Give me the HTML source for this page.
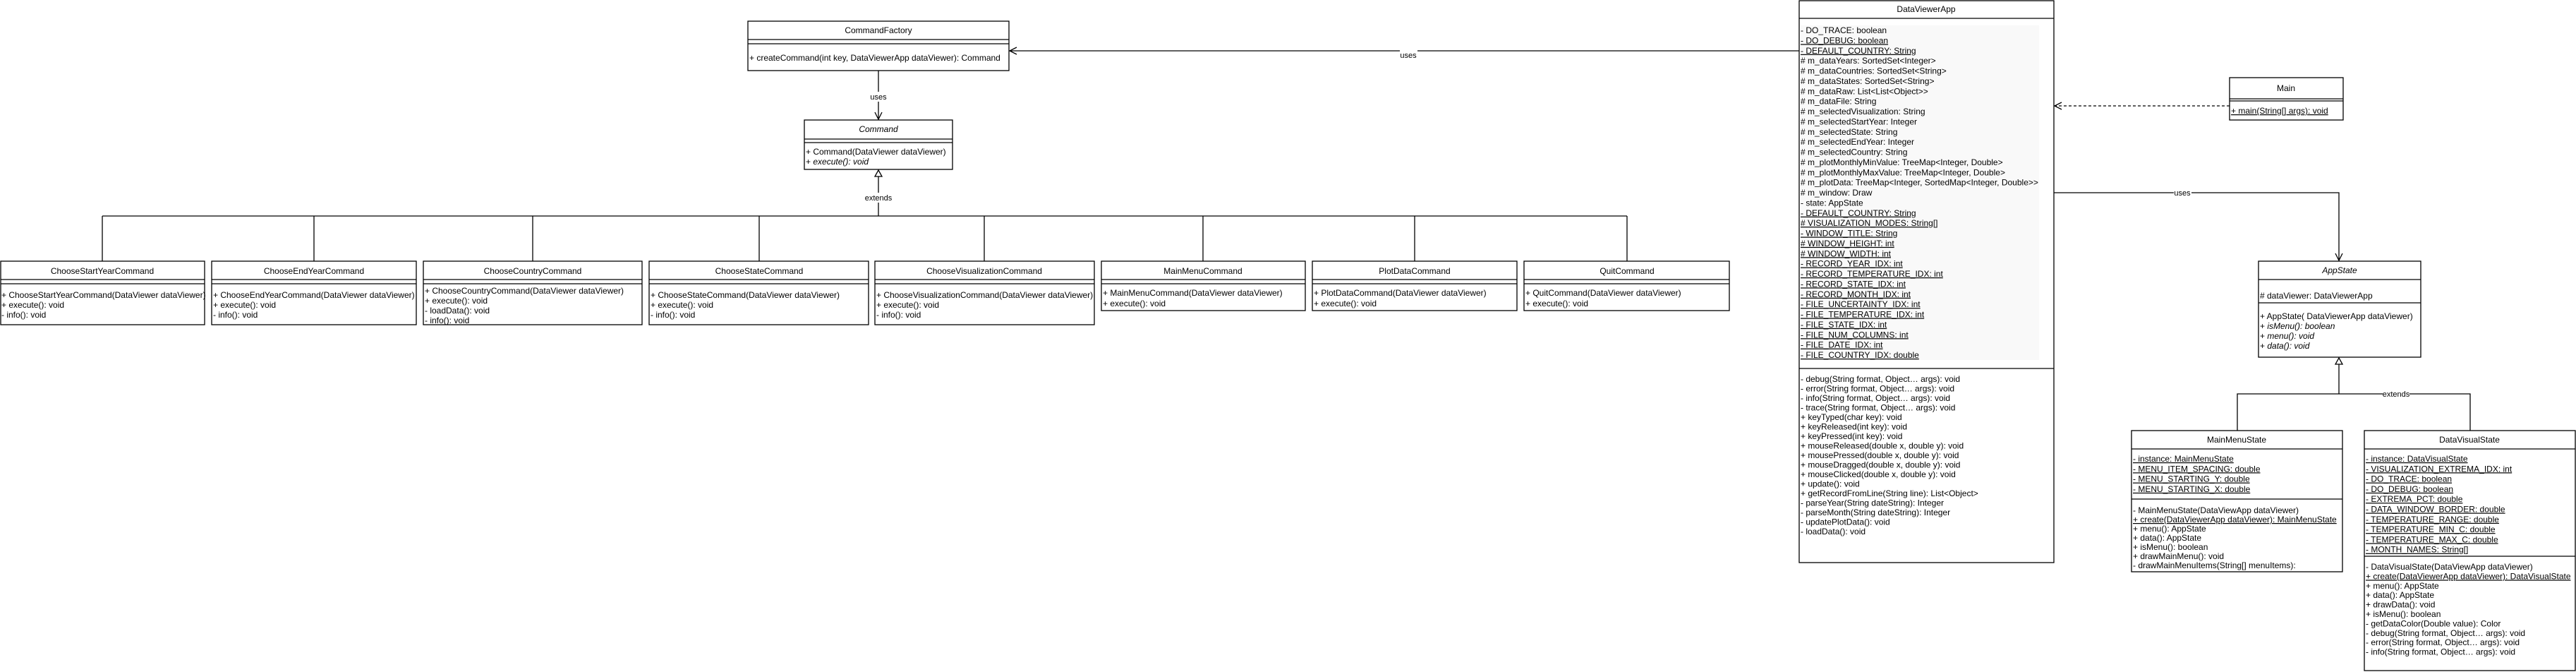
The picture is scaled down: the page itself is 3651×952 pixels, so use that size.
<!DOCTYPE html>
<html><head><meta charset="utf-8"><style>
html,body{margin:0;padding:0;background:#fff;}
svg{display:block;}
text{font-family:"Liberation Sans",Arial,sans-serif;font-size:12px;fill:#000;}
.c{text-anchor:middle;}
.u{text-decoration:underline;}
.i{font-style:italic;}
.l{font-size:11px;}
rect.b{fill:#fff;stroke:#000;stroke-width:1.3;}
line,path.s{stroke:#000;stroke-width:1.3;fill:none;}
</style></head><body>
<svg width="3651" height="952" viewBox="0 0 3651 952" xmlns="http://www.w3.org/2000/svg">
<line x1="2550" y1="72" x2="1431" y2="72"/>
<path class="s" d="M1441 67 L1431 72 L1441 77"/>
<rect x="1984" y="71" width="25" height="14" fill="#fff"/>
<text class="c l" x="1996" y="82">uses</text>

<line x1="1245" y1="100" x2="1245" y2="169"/>
<path class="s" d="M1240 159 L1245 169 L1250 159"/>
<rect x="1232" y="130" width="26" height="14" fill="#fff"/>
<text class="c l" x="1245" y="141">uses</text>

<line x1="1245" y1="250" x2="1245" y2="306"/>
<path d="M1245 241 L1250 250 L1240 250 Z" fill="#fff" stroke="#000" stroke-width="1.3"/>
<rect x="1226" y="273" width="38" height="14" fill="#fff"/>
<text class="c l" x="1245" y="284">extends</text>
<line x1="145" y1="306" x2="2306" y2="306"/>
<line x1="145" y1="306" x2="145" y2="370"/>
<line x1="445" y1="306" x2="445" y2="370"/>
<line x1="755" y1="306" x2="755" y2="370"/>
<line x1="1076" y1="306" x2="1076" y2="370"/>
<line x1="1395" y1="306" x2="1395" y2="370"/>
<line x1="1705" y1="306" x2="1705" y2="370"/>
<line x1="2005" y1="306" x2="2005" y2="370"/>
<line x1="2306" y1="306" x2="2306" y2="370"/>

<line x1="3160" y1="150" x2="2912" y2="150" stroke-dasharray="4 3"/>
<path class="s" d="M2922 145 L2912 150 L2922 155"/>

<path class="s" d="M2911 273 L3315 273 L3315 369"/>
<path class="s" d="M3310 359 L3315 369 L3320 359"/>
<rect x="3081" y="266" width="25" height="14" fill="#fff"/>
<text class="c l" x="3093" y="277">uses</text>

<line x1="3315" y1="516" x2="3315" y2="558"/>
<path d="M3315 507 L3320 516 L3310 516 Z" fill="#fff" stroke="#000" stroke-width="1.3"/>
<path class="s" d="M3171 610 L3171 558 L3501 558 L3501 610"/>
<rect x="3377" y="551" width="38" height="14" fill="#fff"/>
<text class="c l" x="3396" y="562">extends</text>

<rect class="b" x="1060" y="30" width="370" height="70"/>
<line x1="1060" y1="56" x2="1430" y2="56"/><line x1="1060" y1="62" x2="1430" y2="62"/>
<text class="c" x="1245" y="47">CommandFactory</text>
<text x="1062" y="86">+ createCommand(int key, DataViewerApp dataViewer): Command</text>

<rect class="b" x="1140" y="170" width="210" height="70"/>
<line x1="1140" y1="197" x2="1350" y2="197"/><line x1="1140" y1="202" x2="1350" y2="202"/>
<text class="c i" x="1245" y="187">Command</text>
<text x="1142" y="219">+ Command(DataViewer dataViewer)</text>
<text x="1142" y="233">+ <tspan class="i">execute(): void</tspan></text>

<g>
<rect class="b" x="1" y="370" width="289" height="90"/>
<line x1="1" y1="396" x2="290" y2="396"/><line x1="1" y1="402" x2="290" y2="402"/>
<text class="c" x="145" y="388">ChooseStartYearCommand</text>
<text x="2" y="422">+ ChooseStartYearCommand(DataViewer dataViewer)</text>
<text x="2" y="436">+ execute(): void</text>
<text x="2" y="450">- info(): void</text>

<rect class="b" x="300" y="370" width="290" height="90"/>
<line x1="300" y1="396" x2="590" y2="396"/><line x1="300" y1="402" x2="590" y2="402"/>
<text class="c" x="445" y="388">ChooseEndYearCommand</text>
<text x="302" y="422">+ ChooseEndYearCommand(DataViewer dataViewer)</text>
<text x="302" y="436">+ execute(): void</text>
<text x="302" y="450">- info(): void</text>

<rect class="b" x="600" y="370" width="310" height="90"/>
<line x1="600" y1="396" x2="910" y2="396"/><line x1="600" y1="402" x2="910" y2="402"/>
<text class="c" x="755" y="388">ChooseCountryCommand</text>
<text x="602" y="416">+ ChooseCountryCommand(DataViewer dataViewer)</text>
<text x="602" y="430">+ execute(): void</text>
<text x="602" y="444">- loadData(): void</text>
<text x="602" y="458">- info(): void</text>

<rect class="b" x="920" y="370" width="311" height="90"/>
<line x1="920" y1="396" x2="1231" y2="396"/><line x1="920" y1="402" x2="1231" y2="402"/>
<text class="c" x="1076" y="388">ChooseStateCommand</text>
<text x="922" y="422">+ ChooseStateCommand(DataViewer dataViewer)</text>
<text x="922" y="436">+ execute(): void</text>
<text x="922" y="450">- info(): void</text>

<rect class="b" x="1240" y="370" width="311" height="90"/>
<line x1="1240" y1="396" x2="1551" y2="396"/><line x1="1240" y1="402" x2="1551" y2="402"/>
<text class="c" x="1395" y="388">ChooseVisualizationCommand</text>
<text x="1242" y="422">+ ChooseVisualizationCommand(DataViewer dataViewer)</text>
<text x="1242" y="436">+ execute(): void</text>
<text x="1242" y="450">- info(): void</text>

<rect class="b" x="1561" y="370" width="289" height="70"/>
<line x1="1561" y1="396" x2="1850" y2="396"/><line x1="1561" y1="402" x2="1850" y2="402"/>
<text class="c" x="1705" y="388">MainMenuCommand</text>
<text x="1563" y="419">+ MainMenuCommand(DataViewer dataViewer)</text>
<text x="1563" y="434">+ execute(): void</text>

<rect class="b" x="1860" y="370" width="290" height="70"/>
<line x1="1860" y1="396" x2="2150" y2="396"/><line x1="1860" y1="402" x2="2150" y2="402"/>
<text class="c" x="2005" y="388">PlotDataCommand</text>
<text x="1862" y="419">+ PlotDataCommand(DataViewer dataViewer)</text>
<text x="1862" y="434">+ execute(): void</text>

<rect class="b" x="2160" y="370" width="291" height="70"/>
<line x1="2160" y1="396" x2="2451" y2="396"/><line x1="2160" y1="402" x2="2451" y2="402"/>
<text class="c" x="2306" y="388">QuitCommand</text>
<text x="2162" y="419">+ QuitCommand(DataViewer dataViewer)</text>
<text x="2162" y="434">+ execute(): void</text>
</g>

<rect class="b" x="2550" y="1" width="361" height="796"/>
<line x1="2550" y1="26" x2="2911" y2="26"/>
<text class="c" x="2730" y="17">DataViewerApp</text>
<rect x="2552" y="36" width="338" height="474" fill="#f9f9f9"/>
<g transform="translate(2552,47)">
<text y="0">- DO_TRACE: boolean</text>
<text y="14.375" class="u">- DO_DEBUG: boolean</text>
<text y="28.75" class="u">- DEFAULT_COUNTRY: String</text>
<text y="43.125"># m_dataYears: SortedSet&lt;Integer&gt;</text>
<text y="57.5"># m_dataCountries: SortedSet&lt;String&gt;</text>
<text y="71.875"># m_dataStates: SortedSet&lt;String&gt;</text>
<text y="86.25"># m_dataRaw: List&lt;List&lt;Object&gt;&gt;</text>
<text y="100.625"># m_dataFile: String</text>
<text y="115"># m_selectedVisualization: String</text>
<text y="129.375"># m_selectedStartYear: Integer</text>
<text y="143.75"># m_selectedState: String</text>
<text y="158.125"># m_selectedEndYear: Integer</text>
<text y="172.5"># m_selectedCountry: String</text>
<text y="186.875"># m_plotMonthlyMinValue: TreeMap&lt;Integer, Double&gt;</text>
<text y="201.25"># m_plotMonthlyMaxValue: TreeMap&lt;Integer, Double&gt;</text>
<text y="215.625"># m_plotData: TreeMap&lt;Integer, SortedMap&lt;Integer, Double&gt;&gt;</text>
<text y="230"># m_window: Draw</text>
<text y="244.375">- state: AppState</text>
<text y="258.75" class="u">- DEFAULT_COUNTRY: String</text>
<text y="273.125" class="u"># VISUALIZATION_MODES: String[]</text>
<text y="287.5" class="u">- WINDOW_TITLE: String</text>
<text y="301.875" class="u"># WINDOW_HEIGHT: int</text>
<text y="316.25" class="u"># WINDOW_WIDTH: int</text>
<text y="330.625" class="u">- RECORD_YEAR_IDX: int</text>
<text y="345" class="u">- RECORD_TEMPERATURE_IDX: int</text>
<text y="359.375" class="u">- RECORD_STATE_IDX: int</text>
<text y="373.75" class="u">- RECORD_MONTH_IDX: int</text>
<text y="388.125" class="u">- FILE_UNCERTAINTY_IDX: int</text>
<text y="402.5" class="u">- FILE_TEMPERATURE_IDX: int</text>
<text y="416.875" class="u">- FILE_STATE_IDX: int</text>
<text y="431.25" class="u">- FILE_NUM_COLUMNS: int</text>
<text y="445.625" class="u">- FILE_DATE_IDX: int</text>
<text y="460" class="u">- FILE_COUNTRY_IDX: double</text>
</g>
<line x1="2550" y1="522" x2="2911" y2="522"/>
<g transform="translate(2552,541)">
<text y="0">- debug(String format, Object… args): void</text>
<text y="13.5">- error(String format, Object… args): void</text>
<text y="27">- info(String format, Object… args): void</text>
<text y="40.5">- trace(String format, Object… args): void</text>
<text y="54">+ keyTyped(char key): void</text>
<text y="67.5">+ keyReleased(int key): void</text>
<text y="81">+ keyPressed(int key): void</text>
<text y="94.5">+ mouseReleased(double x, double y): void</text>
<text y="108">+ mousePressed(double x, double y): void</text>
<text y="121.5">+ mouseDragged(double x, double y): void</text>
<text y="135">+ mouseClicked(double x, double y): void</text>
<text y="148.5">+ update(): void</text>
<text y="162">+ getRecordFromLine(String line): List&lt;Object&gt;</text>
<text y="175.5">- parseYear(String dateString): Integer</text>
<text y="189">- parseMonth(String dateString): Integer</text>
<text y="202.5">- updatePlotData(): void</text>
<text y="216">- loadData(): void</text>
</g>

<rect class="b" x="3160" y="110" width="161" height="60"/>
<line x1="3160" y1="140" x2="3321" y2="140"/><line x1="3160" y1="143" x2="3321" y2="143"/>
<text class="c" x="3240" y="129">Main</text>
<text class="u" x="3162" y="161">+ main(String[] args): void</text>

<rect class="b" x="3201" y="370" width="230" height="136"/>
<line x1="3201" y1="396" x2="3431" y2="396"/><line x1="3201" y1="429" x2="3431" y2="429"/>
<text class="c i" x="3316" y="387">AppState</text>
<text x="3203" y="423"># dataViewer: DataViewerApp</text>
<text x="3203" y="452">+ AppState( DataViewerApp dataViewer)</text>
<text x="3203" y="466">+ <tspan class="i">isMenu(): boolean</tspan></text>
<text x="3203" y="480">+ <tspan class="i">menu(): void</tspan></text>
<text x="3203" y="494">+ <tspan class="i">data(): void</tspan></text>

<rect class="b" x="3021" y="610" width="299" height="200"/>
<line x1="3021" y1="636" x2="3320" y2="636"/><line x1="3021" y1="707" x2="3320" y2="707"/>
<text class="c" x="3170" y="627">MainMenuState</text>
<g transform="translate(3023,654)">
<text y="0" class="u">- instance: MainMenuState</text>
<text y="14.3" class="u">- MENU_ITEM_SPACING: double</text>
<text y="28.6" class="u">- MENU_STARTING_Y: double</text>
<text y="42.9" class="u">- MENU_STARTING_X: double</text>
</g>
<g transform="translate(3023,727)">
<text y="0">- MainMenuState(DataViewApp dataViewer)</text>
<text y="13" class="u">+ create(DataViewerApp dataViewer): MainMenuState</text>
<text y="26">+ menu(): AppState</text>
<text y="39">+ data(): AppState</text>
<text y="52">+ isMenu(): boolean</text>
<text y="65">+ drawMainMenu(): void</text>
<text y="78">- drawMainMenuItems(String[] menuItems):</text>
</g>

<rect class="b" x="3351" y="610" width="299" height="340"/>
<line x1="3351" y1="636" x2="3650" y2="636"/><line x1="3351" y1="788" x2="3650" y2="788"/>
<text class="c" x="3500" y="627">DataVisualState</text>
<g transform="translate(3353,654)">
<text y="0" class="u">- instance: DataVisualState</text>
<text y="14.3" class="u">- VISUALIZATION_EXTREMA_IDX: int</text>
<text y="28.6" class="u">- DO_TRACE: boolean</text>
<text y="42.9" class="u">- DO_DEBUG: boolean</text>
<text y="57.2" class="u">- EXTREMA_PCT: double</text>
<text y="71.5" class="u">- DATA_WINDOW_BORDER: double</text>
<text y="85.8" class="u">- TEMPERATURE_RANGE: double</text>
<text y="100.1" class="u">- TEMPERATURE_MIN_C: double</text>
<text y="114.4" class="u">- TEMPERATURE_MAX_C: double</text>
<text y="128.7" class="u">- MONTH_NAMES: String[]</text>
</g>
<g transform="translate(3353,807)">
<text y="0">- DataVisualState(DataViewApp dataViewer)</text>
<text y="13.4" class="u">+ create(DataViewerApp dataViewer): DataVisualState</text>
<text y="26.8">+ menu(): AppState</text>
<text y="40.2">+ data(): AppState</text>
<text y="53.6">+ drawData(): void</text>
<text y="67">+ isMenu(): boolean</text>
<text y="80.4">- getDataColor(Double value): Color</text>
<text y="93.8">- debug(String format, Object… args): void</text>
<text y="107.2">- error(String format, Object… args): void</text>
<text y="120.6">- info(String format, Object… args): void</text>
</g>
</svg>
</body></html>
